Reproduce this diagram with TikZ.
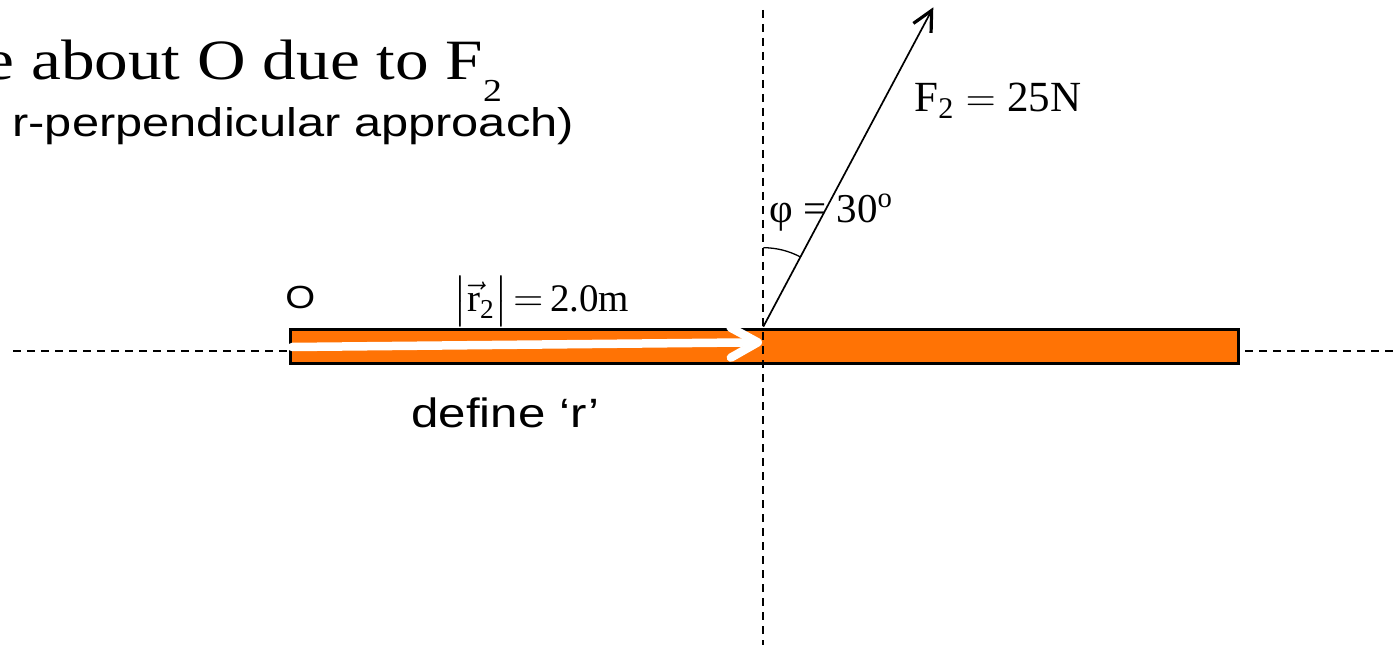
\documentclass[tikz,border=0pt]{standalone}
\usepackage{fontspec}
\usepackage{amsmath}
\setmainfont{Liberation Serif}
\newfontfamily\arialfont{Liberation Sans}
\usetikzlibrary{arrows.meta}
\definecolor{barorange}{RGB}{255,115,5}
\newcommand{\pxfont}[1]{\fontsize{#1}{#1}\selectfont}

\begin{document}
\begin{tikzpicture}[x=0.5pt, y=0.5pt,
  guide/.style={line width=1pt, dash pattern=on 4pt off 3pt},
  txt/.style={inner sep=0pt, anchor=base west},
  sanstxt/.style={txt, xscale=1.2}]
  \useasboundingbox (0,0) rectangle (1397,649);
  % reference lines behind the bar
  \draw[guide] (13,298.3) -- (1395,298.3);
  \draw[line width=1.35pt, fill=barorange] (290.6,285.3) rectangle (1238.7,319.4);
  \draw[guide] (763,639) -- (763,4);
  % points used by the vectors
  \coordinate (rstart) at (292,302);
  \coordinate (P) at (763.3,322.3);
  \coordinate (rtip) at (762,306.7);
  \coordinate (Ftip) at (933.3,641.7);
  % r vector (white) and force F2
  \draw[white, line width=4.25pt, line cap=round,
        -{Straight Barb[round, length=13.5pt, width=15pt]}] (rstart) -- (rtip);
  \draw[line width=0.85pt, -{Straight Barb[length=10pt, width=10pt, line width=1.6pt]}] (P) -- (Ftip);
  % angle between F2 and the vertical
  \draw[line width=0.65pt] (P) ++(90:79) arc[start angle=90, end angle=62, radius=79];
  % labels
  \node[txt, xscale=1.18] (title) at (-16,569)
    {\pxfont{28.5}e about O due to F\raisebox{-11pt}{\pxfont{16}2}};
  \node[sanstxt, xscale=1.22/1.2] (subtitle) at (12,512)
    {\arialfont\pxfont{20}r-perpendicular approach)};
  \node[sanstxt] (lblO) at (285,341) {\arialfont\pxfont{16}O};
  \node[txt] (lblR) at (453,337)
    {\pxfont{19.5}$\big|\vec{\text{r}}_{\text{2}}\big|\mkern-3mu = \mkern-2mu\text{2.0m}$};
  \node[txt] (lblF) at (914,537) {\pxfont{21.5}$\text{F}_{\text{2}} = \text{25N}$};
  \node[txt] (lblPhi) at (769,426) {\pxfont{20.5}φ = 30\textsuperscript{o}};
  \node[sanstxt] (lblDefine) at (411,222) {\arialfont\pxfont{20.5}define ‘r’};
\end{tikzpicture}
\end{document}
